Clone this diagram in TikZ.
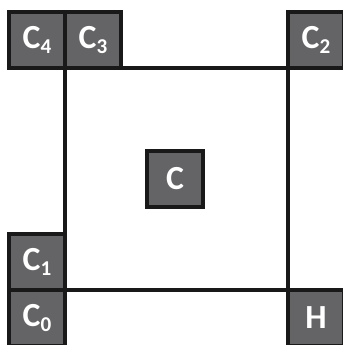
\documentclass[tikz,border=0pt]{standalone}
\usepackage{fontspec}
\setmainfont{Carlito}
\usetikzlibrary{positioning}
\definecolor{cellgray}{RGB}{100,100,102}
\definecolor{celledge}{RGB}{25,25,25}
\newcommand{\csub}[2]{#1\raisebox{-0.3ex}{\fontsize{15}{15}\selectfont #2}}

\begin{document}
\begin{tikzpicture}[
        x=0.025cm, y=-0.025cm,
        node distance = 0pt,
        cell/.style = {draw=celledge, fill=cellgray, rectangle, line width=2.6pt, minimum width=1.4cm, minimum height=1.4cm, inner sep=0pt, outer sep=0pt, text=white, font=\fontsize{24}{24}\selectfont\bfseries},
        frame/.style = {draw=celledge, line width=2.3pt}
    ]
        \useasboundingbox (0,0) rectangle (343,345);

        \coordinate (tl) at (65,68);
        \coordinate (tr) at (288,68);
        \coordinate (bl) at (65,290);
        \coordinate (br) at (288,290);

        \draw [frame] (tl) -- (tr) -- (br) -- (bl) -- cycle;

        \node (c3) [cell, anchor=south west] at (tl) {\csub{C}{3}};
        \node (c4) [cell, left=of c3] {\csub{C}{4}};
        \node (c2) [cell, anchor=south west] at (tr) {\csub{C}{2}};
        \node (c1) [cell, anchor=south east] at (bl) {\csub{C}{1}};
        \node (c0) [cell, below=of c1] {\csub{C}{0}};
        \node (h) [cell, anchor=north west] at (br) {H};
        \node (c) [cell] at (175,179) {C};

    \end{tikzpicture}
\end{document}
